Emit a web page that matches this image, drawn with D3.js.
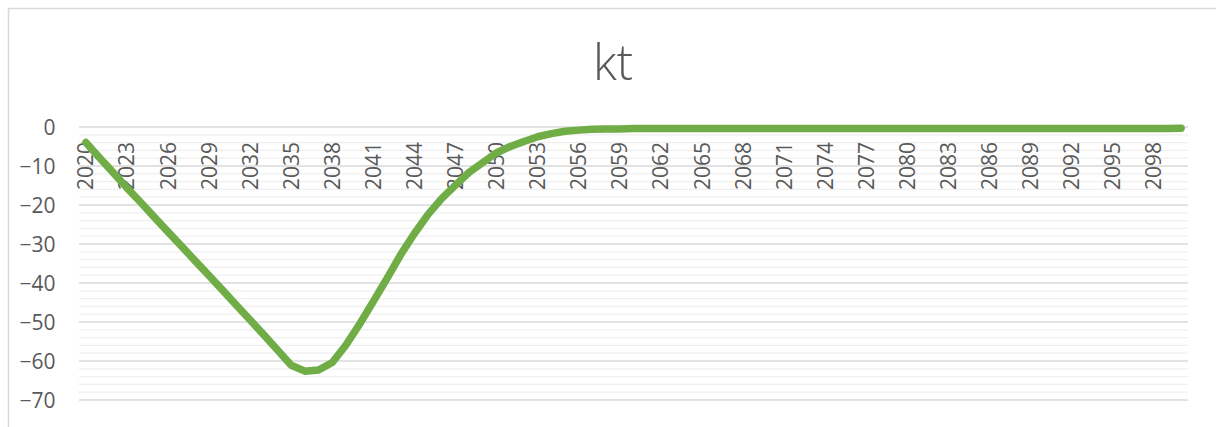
<!DOCTYPE html>
<html>
<head>
<meta charset="utf-8">
<script src="https://cdn.jsdelivr.net/npm/d3@7/dist/d3.min.js"></script>
<style>
  html, body { margin: 0; padding: 0; background: #fff; }
  svg { display: block; }
  text { font-family: "Open Sans", "Liberation Sans", sans-serif; fill: #595959; }
</style>
</head>
<body>
<svg id="chart" width="1216" height="427"></svg>
<script>
// Annual values, 2020–2100 (kt)
const years = d3.range(2020, 2101);
const values = [
  -4.0, -7.9, -11.7, -15.6, -19.3, -23.1, -26.9, -30.6, -34.4, -38.1,   // 2020–2029
  -41.9, -45.7, -49.5, -53.3, -57.2, -61.1, -62.6, -62.3, -60.4, -55.9, // 2030–2039
  -50.5, -44.7, -38.8, -32.7, -27.3, -22.4, -18.3, -14.9, -11.6, -9.1,  // 2040–2049
  -6.6, -5.0, -3.7, -2.5, -1.7, -1.1, -0.8, -0.6, -0.5, -0.5,           // 2050–2059
  -0.4, -0.4, -0.4, -0.4, -0.4, -0.4, -0.4, -0.4, -0.4, -0.4,           // 2060–2069
  -0.4, -0.4, -0.4, -0.4, -0.4, -0.4, -0.4, -0.4, -0.4, -0.4,           // 2070–2079
  -0.4, -0.4, -0.4, -0.4, -0.4, -0.4, -0.4, -0.4, -0.4, -0.4,           // 2080–2089
  -0.4, -0.4, -0.4, -0.4, -0.4, -0.4, -0.4, -0.4, -0.4, -0.4,           // 2090–2099
  -0.3                                                                  // 2100
];
const yTicks = [0, -10, -20, -30, -40, -50, -60, -70];
const yMinorTicks = d3.range(0, -71, -2);
const xTickLabels = [2020, 2023, 2026, 2029, 2032, 2035, 2038, 2041, 2044, 2047, 2050,
  2053, 2056, 2059, 2062, 2065, 2068, 2071, 2074, 2077, 2080, 2083, 2086, 2089, 2092, 2095, 2098];

const svg = d3.select("#chart");
const plot = { left: 79, right: 1188, top: 127, bottom: 400 };

const x = d3.scaleBand().domain(years).range([plot.left, plot.right]).padding(0);
const cx = d => x(d) + x.bandwidth() / 2;
const y = d3.scaleLinear().domain([-70, 0]).range([plot.bottom, plot.top]);

// chart frame
svg.append("path")
  .attr("d", "M8.5,427 V8.5 H1216")
  .attr("fill", "none").attr("stroke", "#d9d9d9").attr("stroke-width", 1.5);

// title
svg.append("text")
  .attr("x", 613).attr("y", 80)
  .attr("text-anchor", "middle")
  .style("font-size", "49px").style("font-weight", 300)
  .text("kt");

// minor gridlines
svg.append("g").selectAll("line")
  .data(yMinorTicks.filter(v => v % 10 !== 0))
  .join("line")
  .attr("x1", plot.left).attr("x2", plot.right)
  .attr("y1", d => y(d)).attr("y2", d => y(d))
  .attr("stroke", "#efefef").attr("stroke-width", 1.3);

// major gridlines
svg.append("g").selectAll("line")
  .data(yTicks)
  .join("line")
  .attr("x1", plot.left).attr("x2", plot.right)
  .attr("y1", d => y(d)).attr("y2", d => y(d))
  .attr("stroke", "#d9d9d9").attr("stroke-width", 1.3);

// y axis labels
const yAxis = svg.append("g")
  .attr("transform", "translate(55.5,0)")
  .call(d3.axisLeft(y).tickValues(yTicks).tickSize(0).tickPadding(0).tickFormat(d3.format("d")));
yAxis.select(".domain").remove();
yAxis.selectAll("text")
  .style("font-size", "21px").style("font-family", "\"Open Sans\", sans-serif")
  .attr("fill", "#595959").attr("dy", "0.35em");

// x axis labels, rotated, hanging below the zero line
svg.append("g").selectAll("text")
  .data(xTickLabels)
  .join("text")
  .attr("transform", d => `translate(${cx(d)},142) rotate(-90)`)
  .attr("text-anchor", "end")
  .attr("dy", "0.36em")
  .style("font-size", "21px")
  .text(d => d);

// series line
const line = d3.line().x((d, i) => cx(years[i])).y(d => y(d));
svg.append("path")
  .datum(values)
  .attr("d", line)
  .attr("fill", "none")
  .attr("stroke", "#70ad47")
  .attr("stroke-width", 7.5)
  .attr("stroke-linejoin", "round")
  .attr("stroke-linecap", "round");
</script>
</body>
</html>
